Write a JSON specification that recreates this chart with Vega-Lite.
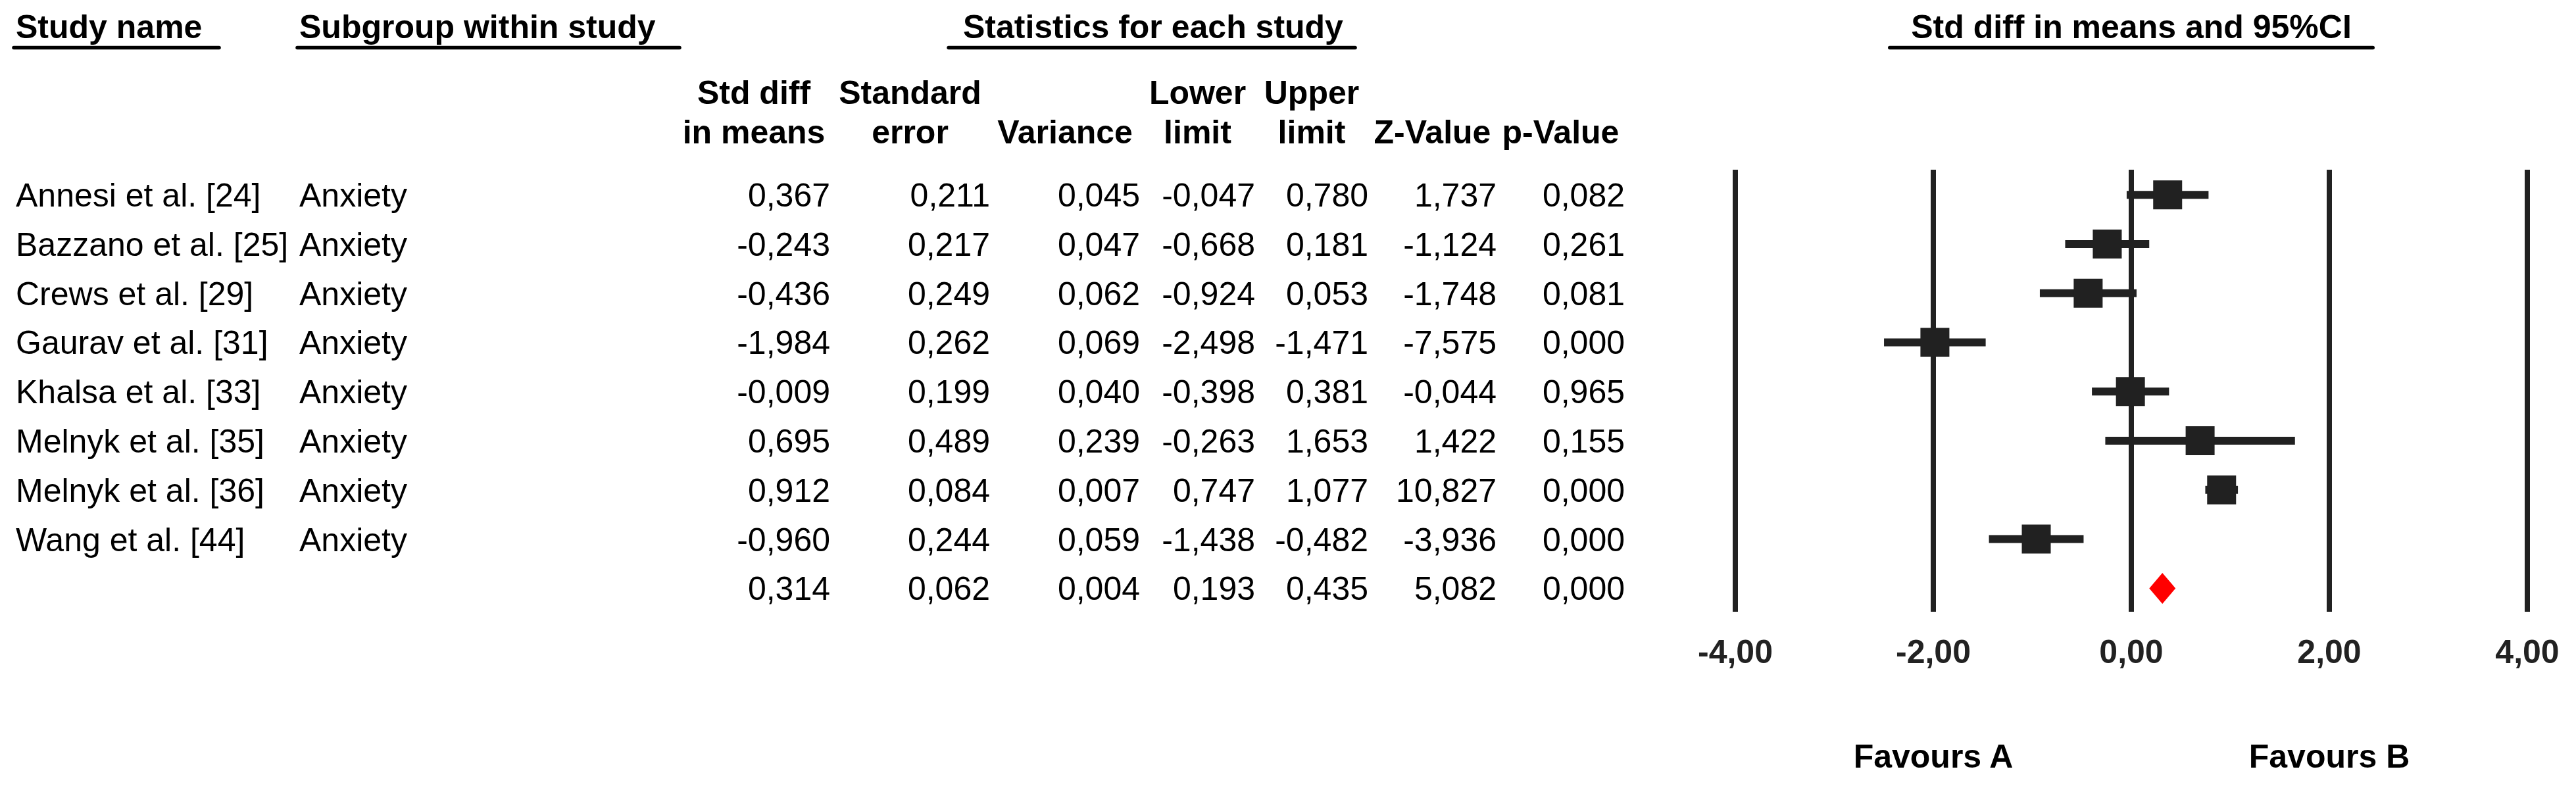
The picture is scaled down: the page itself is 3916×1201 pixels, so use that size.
{
  "$schema": "https://vega.github.io/schema/vega-lite/v6.json",
  "padding": 0,
  "autosize": {"type": "pad"},
  "background": "white",
  "bounds": "flush",
  "spacing": 38,
  "config": {
    "view": {"stroke": null},
    "text": {"font": "Liberation Sans", "fontSize": 50, "color": "black"},
    "locale": {"number": {"decimal": ",", "thousands": ".", "grouping": [3], "currency": ["", ""], "minus": "-"}}
  },
  "datasets": {
    "studies": [
      {"row": 1, "kind": "study", "study": "Annesi et al. [24]", "sub": "Anxiety", "sd": 0.367, "se": 0.211, "v": 0.045, "lo": -0.047, "hi": 0.780, "z": 1.737, "p": 0.082},
      {"row": 2, "kind": "study", "study": "Bazzano et al. [25]", "sub": "Anxiety", "sd": -0.243, "se": 0.217, "v": 0.047, "lo": -0.668, "hi": 0.181, "z": -1.124, "p": 0.261},
      {"row": 3, "kind": "study", "study": "Crews et al. [29]", "sub": "Anxiety", "sd": -0.436, "se": 0.249, "v": 0.062, "lo": -0.924, "hi": 0.053, "z": -1.748, "p": 0.081},
      {"row": 4, "kind": "study", "study": "Gaurav et al. [31]", "sub": "Anxiety", "sd": -1.984, "se": 0.262, "v": 0.069, "lo": -2.498, "hi": -1.471, "z": -7.575, "p": 0.000},
      {"row": 5, "kind": "study", "study": "Khalsa et al. [33]", "sub": "Anxiety", "sd": -0.009, "se": 0.199, "v": 0.040, "lo": -0.398, "hi": 0.381, "z": -0.044, "p": 0.965},
      {"row": 6, "kind": "study", "study": "Melnyk et al. [35]", "sub": "Anxiety", "sd": 0.695, "se": 0.489, "v": 0.239, "lo": -0.263, "hi": 1.653, "z": 1.422, "p": 0.155},
      {"row": 7, "kind": "study", "study": "Melnyk et al. [36]", "sub": "Anxiety", "sd": 0.912, "se": 0.084, "v": 0.007, "lo": 0.747, "hi": 1.077, "z": 10.827, "p": 0.000},
      {"row": 8, "kind": "study", "study": "Wang et al. [44]", "sub": "Anxiety", "sd": -0.960, "se": 0.244, "v": 0.059, "lo": -1.438, "hi": -0.482, "z": -3.936, "p": 0.000},
      {"row": 9, "kind": "summary", "study": "", "sub": "", "sd": 0.314, "se": 0.062, "v": 0.004, "lo": 0.193, "hi": 0.435, "z": 5.082, "p": 0.000}
    ],
    "ticks": [{"v": -4}, {"v": -2}, {"v": 0}, {"v": 2}, {"v": 4}]
  },
  "hconcat": [
    {
      "width": 2600,
      "height": 1201,
      "data": {"name": "studies"},
      "layer": [
        {"mark": {"type": "text", "align": "left", "baseline": "middle", "dy": 3},
         "encoding": {"x": {"datum": 0, "type": "quantitative", "scale": {"domain": [0,1,2,3,4,5,6,7,8,9], "range": [24,455,1030,1262,1505,1733,1908,2080,2275,2470], "nice": false, "zero": false}, "axis": null},
                      "y": {"field": "row", "type": "quantitative", "scale": {"domain": [-2.96, 13.1], "reverse": true, "nice": false, "zero": false}, "axis": null},
                      "text": {"field": "study"}}},
        {"mark": {"type": "text", "align": "left", "baseline": "middle", "dy": 3},
         "encoding": {"x": {"datum": 1, "type": "quantitative", "scale": {"domain": [0,1,2,3,4,5,6,7,8,9], "range": [24,455,1030,1262,1505,1733,1908,2080,2275,2470], "nice": false, "zero": false}, "axis": null},
                      "y": {"field": "row", "type": "quantitative", "scale": {"domain": [-2.96, 13.1], "reverse": true, "nice": false, "zero": false}, "axis": null},
                      "text": {"field": "sub"}}},
        {"mark": {"type": "text", "align": "right", "baseline": "middle", "dy": 3},
         "encoding": {"x": {"datum": 3, "type": "quantitative", "scale": {"domain": [0,1,2,3,4,5,6,7,8,9], "range": [24,455,1030,1262,1505,1733,1908,2080,2275,2470], "nice": false, "zero": false}, "axis": null},
                      "y": {"field": "row", "type": "quantitative", "scale": {"domain": [-2.96, 13.1], "reverse": true, "nice": false, "zero": false}, "axis": null},
                      "text": {"field": "sd", "type": "quantitative", "format": ".3f"}}},
        {"mark": {"type": "text", "align": "right", "baseline": "middle", "dy": 3},
         "encoding": {"x": {"datum": 4, "type": "quantitative", "scale": {"domain": [0,1,2,3,4,5,6,7,8,9], "range": [24,455,1030,1262,1505,1733,1908,2080,2275,2470], "nice": false, "zero": false}, "axis": null},
                      "y": {"field": "row", "type": "quantitative", "scale": {"domain": [-2.96, 13.1], "reverse": true, "nice": false, "zero": false}, "axis": null},
                      "text": {"field": "se", "type": "quantitative", "format": ".3f"}}},
        {"mark": {"type": "text", "align": "right", "baseline": "middle", "dy": 3},
         "encoding": {"x": {"datum": 5, "type": "quantitative", "scale": {"domain": [0,1,2,3,4,5,6,7,8,9], "range": [24,455,1030,1262,1505,1733,1908,2080,2275,2470], "nice": false, "zero": false}, "axis": null},
                      "y": {"field": "row", "type": "quantitative", "scale": {"domain": [-2.96, 13.1], "reverse": true, "nice": false, "zero": false}, "axis": null},
                      "text": {"field": "v", "type": "quantitative", "format": ".3f"}}},
        {"mark": {"type": "text", "align": "right", "baseline": "middle", "dy": 3},
         "encoding": {"x": {"datum": 6, "type": "quantitative", "scale": {"domain": [0,1,2,3,4,5,6,7,8,9], "range": [24,455,1030,1262,1505,1733,1908,2080,2275,2470], "nice": false, "zero": false}, "axis": null},
                      "y": {"field": "row", "type": "quantitative", "scale": {"domain": [-2.96, 13.1], "reverse": true, "nice": false, "zero": false}, "axis": null},
                      "text": {"field": "lo", "type": "quantitative", "format": ".3f"}}},
        {"mark": {"type": "text", "align": "right", "baseline": "middle", "dy": 3},
         "encoding": {"x": {"datum": 7, "type": "quantitative", "scale": {"domain": [0,1,2,3,4,5,6,7,8,9], "range": [24,455,1030,1262,1505,1733,1908,2080,2275,2470], "nice": false, "zero": false}, "axis": null},
                      "y": {"field": "row", "type": "quantitative", "scale": {"domain": [-2.96, 13.1], "reverse": true, "nice": false, "zero": false}, "axis": null},
                      "text": {"field": "hi", "type": "quantitative", "format": ".3f"}}},
        {"mark": {"type": "text", "align": "right", "baseline": "middle", "dy": 3},
         "encoding": {"x": {"datum": 8, "type": "quantitative", "scale": {"domain": [0,1,2,3,4,5,6,7,8,9], "range": [24,455,1030,1262,1505,1733,1908,2080,2275,2470], "nice": false, "zero": false}, "axis": null},
                      "y": {"field": "row", "type": "quantitative", "scale": {"domain": [-2.96, 13.1], "reverse": true, "nice": false, "zero": false}, "axis": null},
                      "text": {"field": "z", "type": "quantitative", "format": ".3f"}}},
        {"mark": {"type": "text", "align": "right", "baseline": "middle", "dy": 3},
         "encoding": {"x": {"datum": 9, "type": "quantitative", "scale": {"domain": [0,1,2,3,4,5,6,7,8,9], "range": [24,455,1030,1262,1505,1733,1908,2080,2275,2470], "nice": false, "zero": false}, "axis": null},
                      "y": {"field": "row", "type": "quantitative", "scale": {"domain": [-2.96, 13.1], "reverse": true, "nice": false, "zero": false}, "axis": null},
                      "text": {"field": "p", "type": "quantitative", "format": ".3f"}}},
        {"data": {"values": [{}]},
         "mark": {"type": "text", "align": "left", "baseline": "alphabetic", "fontWeight": "bold", "text": "Study name"},
         "encoding": {"x": {"datum": 0, "type": "quantitative", "scale": {"domain": [0,1,2,3,4,5,6,7,8,9], "range": [24,455,1030,1262,1505,1733,1908,2080,2275,2470], "nice": false, "zero": false}, "axis": null},
                      "y": {"datum": -2.178, "type": "quantitative", "scale": {"domain": [-2.96, 13.1], "reverse": true, "nice": false, "zero": false}, "axis": null}}},
        {"data": {"values": [{}]},
         "mark": {"type": "text", "align": "left", "baseline": "alphabetic", "fontWeight": "bold", "text": "Subgroup within study"},
         "encoding": {"x": {"datum": 1, "type": "quantitative", "scale": {"domain": [0,1,2,3,4,5,6,7,8,9], "range": [24,455,1030,1262,1505,1733,1908,2080,2275,2470], "nice": false, "zero": false}, "axis": null},
                      "y": {"datum": -2.178, "type": "quantitative", "scale": {"domain": [-2.96, 13.1], "reverse": true, "nice": false, "zero": false}, "axis": null}}},
        {"data": {"values": [{}]},
         "mark": {"type": "text", "align": "center", "baseline": "alphabetic", "fontWeight": "bold", "text": "Statistics for each study"},
         "encoding": {"x": {"datum": 5.114, "type": "quantitative", "scale": {"domain": [0,1,2,3,4,5,6,7,8,9], "range": [24,455,1030,1262,1505,1733,1908,2080,2275,2470], "nice": false, "zero": false}, "axis": null},
                      "y": {"datum": -2.178, "type": "quantitative", "scale": {"domain": [-2.96, 13.1], "reverse": true, "nice": false, "zero": false}, "axis": null}}},
        {"data": {"values": [{}]},
         "mark": {"type": "rule", "strokeWidth": 5.5, "strokeCap": "round", "color": "black"},
         "encoding": {"x": {"datum": -0.007, "type": "quantitative", "scale": {"domain": [0,1,2,3,4,5,6,7,8,9], "range": [24,455,1030,1262,1505,1733,1908,2080,2275,2470], "nice": false, "zero": false}, "axis": null},
                      "x2": {"datum": 0.717},
                      "y": {"datum": -1.99, "type": "quantitative", "scale": {"domain": [-2.96, 13.1], "reverse": true, "nice": false, "zero": false}, "axis": null}}},
        {"data": {"values": [{}]},
         "mark": {"type": "rule", "strokeWidth": 5.5, "strokeCap": "round", "color": "black"},
         "encoding": {"x": {"datum": 0.993, "type": "quantitative", "scale": {"domain": [0,1,2,3,4,5,6,7,8,9], "range": [24,455,1030,1262,1505,1733,1908,2080,2275,2470], "nice": false, "zero": false}, "axis": null},
                      "x2": {"datum": 2.013},
                      "y": {"datum": -1.99, "type": "quantitative", "scale": {"domain": [-2.96, 13.1], "reverse": true, "nice": false, "zero": false}, "axis": null}}},
        {"data": {"values": [{}]},
         "mark": {"type": "rule", "strokeWidth": 5.5, "strokeCap": "round", "color": "black"},
         "encoding": {"x": {"datum": 3.741, "type": "quantitative", "scale": {"domain": [0,1,2,3,4,5,6,7,8,9], "range": [24,455,1030,1262,1505,1733,1908,2080,2275,2470], "nice": false, "zero": false}, "axis": null},
                      "x2": {"datum": 6.884},
                      "y": {"datum": -1.99, "type": "quantitative", "scale": {"domain": [-2.96, 13.1], "reverse": true, "nice": false, "zero": false}, "axis": null}}},
        {"data": {"values": [{}]},
         "mark": {"type": "text", "align": "center", "baseline": "alphabetic", "fontWeight": "bold", "text": "Std diff"},
         "encoding": {"x": {"datum": 2.5, "type": "quantitative", "scale": {"domain": [0,1,2,3,4,5,6,7,8,9], "range": [24,455,1030,1262,1505,1733,1908,2080,2275,2470], "nice": false, "zero": false}, "axis": null},
                      "y": {"datum": -0.847, "type": "quantitative", "scale": {"domain": [-2.96, 13.1], "reverse": true, "nice": false, "zero": false}, "axis": null}}},
        {"data": {"values": [{}]},
         "mark": {"type": "text", "align": "center", "baseline": "alphabetic", "fontWeight": "bold", "text": "in means"},
         "encoding": {"x": {"datum": 2.5, "type": "quantitative", "scale": {"domain": [0,1,2,3,4,5,6,7,8,9], "range": [24,455,1030,1262,1505,1733,1908,2080,2275,2470], "nice": false, "zero": false}, "axis": null},
                      "y": {"datum": -0.045, "type": "quantitative", "scale": {"domain": [-2.96, 13.1], "reverse": true, "nice": false, "zero": false}, "axis": null}}},
        {"data": {"values": [{}]},
         "mark": {"type": "text", "align": "center", "baseline": "alphabetic", "fontWeight": "bold", "text": "Standard"},
         "encoding": {"x": {"datum": 3.5, "type": "quantitative", "scale": {"domain": [0,1,2,3,4,5,6,7,8,9], "range": [24,455,1030,1262,1505,1733,1908,2080,2275,2470], "nice": false, "zero": false}, "axis": null},
                      "y": {"datum": -0.847, "type": "quantitative", "scale": {"domain": [-2.96, 13.1], "reverse": true, "nice": false, "zero": false}, "axis": null}}},
        {"data": {"values": [{}]},
         "mark": {"type": "text", "align": "center", "baseline": "alphabetic", "fontWeight": "bold", "text": "error"},
         "encoding": {"x": {"datum": 3.5, "type": "quantitative", "scale": {"domain": [0,1,2,3,4,5,6,7,8,9], "range": [24,455,1030,1262,1505,1733,1908,2080,2275,2470], "nice": false, "zero": false}, "axis": null},
                      "y": {"datum": -0.045, "type": "quantitative", "scale": {"domain": [-2.96, 13.1], "reverse": true, "nice": false, "zero": false}, "axis": null}}},
        {"data": {"values": [{}]},
         "mark": {"type": "text", "align": "center", "baseline": "alphabetic", "fontWeight": "bold", "text": "Variance"},
         "encoding": {"x": {"datum": 4.5, "type": "quantitative", "scale": {"domain": [0,1,2,3,4,5,6,7,8,9], "range": [24,455,1030,1262,1505,1733,1908,2080,2275,2470], "nice": false, "zero": false}, "axis": null},
                      "y": {"datum": -0.045, "type": "quantitative", "scale": {"domain": [-2.96, 13.1], "reverse": true, "nice": false, "zero": false}, "axis": null}}},
        {"data": {"values": [{}]},
         "mark": {"type": "text", "align": "center", "baseline": "alphabetic", "fontWeight": "bold", "text": "Lower"},
         "encoding": {"x": {"datum": 5.5, "type": "quantitative", "scale": {"domain": [0,1,2,3,4,5,6,7,8,9], "range": [24,455,1030,1262,1505,1733,1908,2080,2275,2470], "nice": false, "zero": false}, "axis": null},
                      "y": {"datum": -0.847, "type": "quantitative", "scale": {"domain": [-2.96, 13.1], "reverse": true, "nice": false, "zero": false}, "axis": null}}},
        {"data": {"values": [{}]},
         "mark": {"type": "text", "align": "center", "baseline": "alphabetic", "fontWeight": "bold", "text": "limit"},
         "encoding": {"x": {"datum": 5.5, "type": "quantitative", "scale": {"domain": [0,1,2,3,4,5,6,7,8,9], "range": [24,455,1030,1262,1505,1733,1908,2080,2275,2470], "nice": false, "zero": false}, "axis": null},
                      "y": {"datum": -0.045, "type": "quantitative", "scale": {"domain": [-2.96, 13.1], "reverse": true, "nice": false, "zero": false}, "axis": null}}},
        {"data": {"values": [{}]},
         "mark": {"type": "text", "align": "center", "baseline": "alphabetic", "fontWeight": "bold", "text": "Upper"},
         "encoding": {"x": {"datum": 6.5, "type": "quantitative", "scale": {"domain": [0,1,2,3,4,5,6,7,8,9], "range": [24,455,1030,1262,1505,1733,1908,2080,2275,2470], "nice": false, "zero": false}, "axis": null},
                      "y": {"datum": -0.847, "type": "quantitative", "scale": {"domain": [-2.96, 13.1], "reverse": true, "nice": false, "zero": false}, "axis": null}}},
        {"data": {"values": [{}]},
         "mark": {"type": "text", "align": "center", "baseline": "alphabetic", "fontWeight": "bold", "text": "limit"},
         "encoding": {"x": {"datum": 6.5, "type": "quantitative", "scale": {"domain": [0,1,2,3,4,5,6,7,8,9], "range": [24,455,1030,1262,1505,1733,1908,2080,2275,2470], "nice": false, "zero": false}, "axis": null},
                      "y": {"datum": -0.045, "type": "quantitative", "scale": {"domain": [-2.96, 13.1], "reverse": true, "nice": false, "zero": false}, "axis": null}}},
        {"data": {"values": [{}]},
         "mark": {"type": "text", "align": "center", "baseline": "alphabetic", "fontWeight": "bold", "text": "Z-Value"},
         "encoding": {"x": {"datum": 7.5, "type": "quantitative", "scale": {"domain": [0,1,2,3,4,5,6,7,8,9], "range": [24,455,1030,1262,1505,1733,1908,2080,2275,2470], "nice": false, "zero": false}, "axis": null},
                      "y": {"datum": -0.045, "type": "quantitative", "scale": {"domain": [-2.96, 13.1], "reverse": true, "nice": false, "zero": false}, "axis": null}}},
        {"data": {"values": [{}]},
         "mark": {"type": "text", "align": "center", "baseline": "alphabetic", "fontWeight": "bold", "text": "p-Value"},
         "encoding": {"x": {"datum": 8.5, "type": "quantitative", "scale": {"domain": [0,1,2,3,4,5,6,7,8,9], "range": [24,455,1030,1262,1505,1733,1908,2080,2275,2470], "nice": false, "zero": false}, "axis": null},
                      "y": {"datum": -0.045, "type": "quantitative", "scale": {"domain": [-2.96, 13.1], "reverse": true, "nice": false, "zero": false}, "axis": null}}}
      ]
    },
    {
      "width": 1204,
      "height": 1201,
      "layer": [
        {"data": {"name": "ticks"},
         "mark": {"type": "rule", "strokeWidth": 8, "color": "#212121", "strokeCap": "butt"},
         "encoding": {"x": {"field": "v", "type": "quantitative", "scale": {"domain": [-4, 4], "nice": false, "zero": false}, "axis": null},
                      "y": {"datum": 0.49, "type": "quantitative", "scale": {"domain": [-2.96, 13.1], "reverse": true, "nice": false, "zero": false}, "axis": null},
                      "y2": {"datum": 9.477}}},
        {"data": {"name": "ticks"},
         "mark": {"type": "text", "align": "center", "baseline": "alphabetic", "fontWeight": "bold", "color": "#222222"},
         "encoding": {"x": {"field": "v", "type": "quantitative", "scale": {"domain": [-4, 4], "nice": false, "zero": false}, "axis": null},
                      "y": {"datum": 10.519, "type": "quantitative", "scale": {"domain": [-2.96, 13.1], "reverse": true, "nice": false, "zero": false}, "axis": null},
                      "text": {"field": "v", "type": "quantitative", "format": ".2f"}}},
        {"data": {"name": "studies"},
         "transform": [{"filter": "datum.kind == 'study'"}],
         "mark": {"type": "rule", "strokeWidth": 12, "color": "#212121", "strokeCap": "butt"},
         "encoding": {"x": {"field": "lo", "type": "quantitative", "scale": {"domain": [-4, 4], "nice": false, "zero": false}, "axis": null},
                      "x2": {"field": "hi"},
                      "y": {"field": "row", "type": "quantitative", "scale": {"domain": [-2.96, 13.1], "reverse": true, "nice": false, "zero": false}, "axis": null}}},
        {"data": {"name": "studies"},
         "transform": [{"filter": "datum.kind == 'study'"}],
         "mark": {"type": "point", "shape": "square", "filled": true, "size": 1936, "color": "#212121", "opacity": 1, "strokeWidth": 0},
         "encoding": {"x": {"field": "sd", "type": "quantitative", "scale": {"domain": [-4, 4], "nice": false, "zero": false}, "axis": null},
                      "y": {"field": "row", "type": "quantitative", "scale": {"domain": [-2.96, 13.1], "reverse": true, "nice": false, "zero": false}, "axis": null}}},
        {"data": {"name": "studies"},
         "transform": [{"filter": "datum.kind == 'summary'"}],
         "mark": {"type": "point", "shape": "M-0.85,0L0,-1L0.85,0L0,1Z", "filled": true, "size": 2209, "color": "#ff0000", "opacity": 1, "strokeWidth": 0},
         "encoding": {"x": {"field": "sd", "type": "quantitative", "scale": {"domain": [-4, 4], "nice": false, "zero": false}, "axis": null},
                      "y": {"field": "row", "type": "quantitative", "scale": {"domain": [-2.96, 13.1], "reverse": true, "nice": false, "zero": false}, "axis": null}}},
        {"data": {"values": [{}]},
         "mark": {"type": "text", "align": "center", "baseline": "alphabetic", "fontWeight": "bold", "text": "Std diff in means and 95%CI"},
         "encoding": {"x": {"datum": 0, "type": "quantitative", "scale": {"domain": [-4, 4], "nice": false, "zero": false}, "axis": null},
                      "y": {"datum": -2.178, "type": "quantitative", "scale": {"domain": [-2.96, 13.1], "reverse": true, "nice": false, "zero": false}, "axis": null}}},
        {"data": {"values": [{}]},
         "mark": {"type": "rule", "strokeWidth": 5.5, "strokeCap": "round", "color": "black"},
         "encoding": {"x": {"datum": -2.44, "type": "quantitative", "scale": {"domain": [-4, 4], "nice": false, "zero": false}, "axis": null},
                      "x2": {"datum": 2.44},
                      "y": {"datum": -1.99, "type": "quantitative", "scale": {"domain": [-2.96, 13.1], "reverse": true, "nice": false, "zero": false}, "axis": null}}},
        {"data": {"values": [{}]},
         "mark": {"type": "text", "align": "center", "baseline": "alphabetic", "fontWeight": "bold", "text": "Favours A"},
         "encoding": {"x": {"datum": -2, "type": "quantitative", "scale": {"domain": [-4, 4], "nice": false, "zero": false}, "axis": null},
                      "y": {"datum": 12.64, "type": "quantitative", "scale": {"domain": [-2.96, 13.1], "reverse": true, "nice": false, "zero": false}, "axis": null}}},
        {"data": {"values": [{}]},
         "mark": {"type": "text", "align": "center", "baseline": "alphabetic", "fontWeight": "bold", "text": "Favours B"},
         "encoding": {"x": {"datum": 2, "type": "quantitative", "scale": {"domain": [-4, 4], "nice": false, "zero": false}, "axis": null},
                      "y": {"datum": 12.64, "type": "quantitative", "scale": {"domain": [-2.96, 13.1], "reverse": true, "nice": false, "zero": false}, "axis": null}}}
      ]
    }
  ]
}
